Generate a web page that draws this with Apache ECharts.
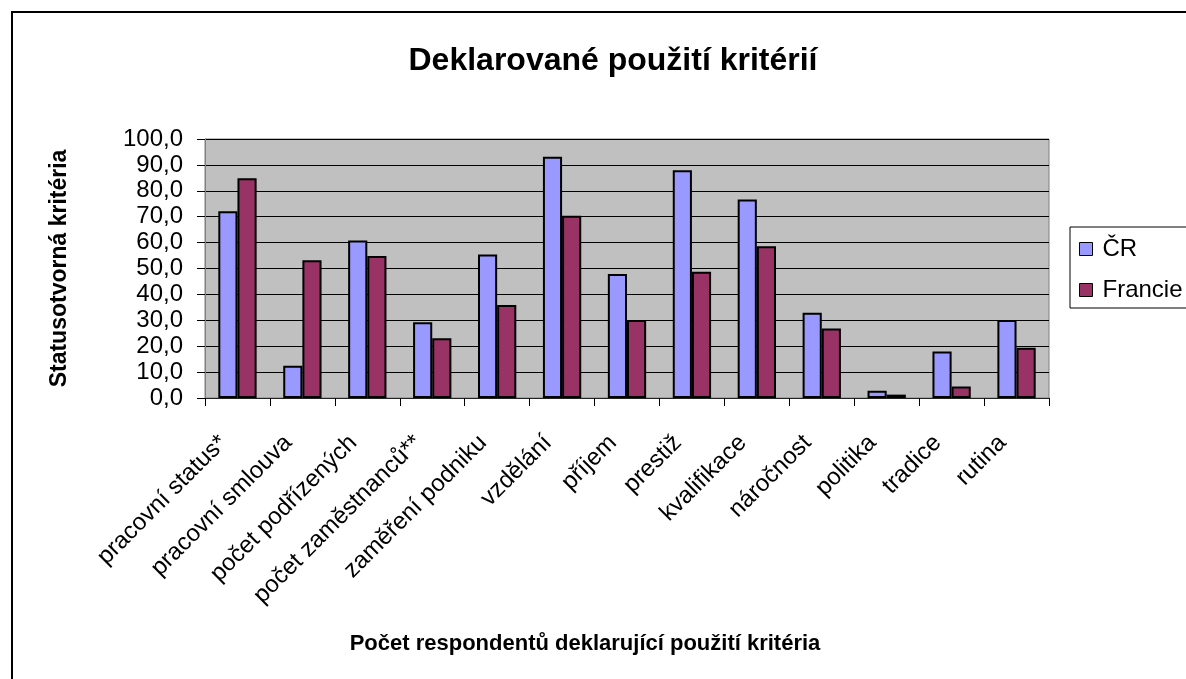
<!DOCTYPE html>
<html>
<head>
<meta charset="utf-8">
<script src="https://cdn.jsdelivr.net/npm/echarts@6/dist/echarts.min.js"></script>
<style>
  html, body { margin: 0; padding: 0; background: #fff; }
  #chart { width: 1186px; height: 679px; }
</style>
</head>
<body>
<div id="chart"></div>
<script>
// kategorie a hodnoty
const categories = [
  'pracovní status*', 'pracovní smlouva', 'počet podřízených', 'počet zaměstnanců**',
  'zaměření podniku', 'vzdělání', 'příjem', 'prestiž', 'kvalifikace',
  'náročnost', 'politika', 'tradice', 'rutina'
]
const cr = [72.1, 12.5, 60.8, 29.2, 55.4, 93.1, 47.9, 87.9, 76.6, 32.9, 2.8, 18.0, 30.1]
const francie = [84.8, 53.2, 54.8, 23.1, 35.9, 70.4, 30.1, 48.7, 58.6, 26.8, 1.3, 4.4, 19.4]
const seriesNames = ['ČR', 'Francie']

const font = '"Liberation Sans", Arial, sans-serif'
const chart = echarts.init(document.getElementById('chart'))

const option = {
  backgroundColor: '#fff',
  animation: false,
  textStyle: { fontFamily: font, color: '#000' },
  title: [{
    text: 'Deklarované použití kritérií',
    left: 608,
    top: 40,
    textAlign: 'center',
    textStyle: { fontFamily: font, fontSize: 32, fontWeight: 'bold', color: '#000' }
  }, {
    text: 'Počet respondentů deklarující použití kritéria',
    left: 580,
    top: 628,
    textAlign: 'center',
    textStyle: { fontFamily: font, fontSize: 22, fontWeight: 'bold', color: '#000' }
  }],
  graphic: [{
    type: 'rect',
    shape: { x: 12, y: 12, width: 1200, height: 700 },
    style: { fill: 'none', stroke: '#000', lineWidth: 2 },
    silent: true
  }],
  legend: {
    data: seriesNames,
    orient: 'vertical',
    left: 1070,
    top: 227,
    padding: [10, 40, 6, 9],
    itemGap: 17,
    itemWidth: 13,
    itemHeight: 13,
    borderColor: '#000',
    borderWidth: 1,
    icon: 'rect',
    itemStyle: { borderColor: '#000', borderWidth: 1 },
    textStyle: { fontFamily: font, fontSize: 24, color: '#000', padding: [0, 0, 0, 5] }
  },
  grid: {
    left: 205,
    top: 139,
    right: 137,
    bottom: 281,
    show: true,
    backgroundColor: '#C0C0C0',
    borderColor: '#808080',
    borderWidth: 1
  },
  xAxis: {
    type: 'category',
    data: categories,
    axisLine: { show: true, lineStyle: { color: '#222', width: 1 } },
    axisTick: { show: true, length: 8, lineStyle: { color: '#000' } },
    axisLabel: {
      interval: 0,
      rotate: 45,
      margin: 27,
      padding: [0, 20, 0, 0],
      fontFamily: font,
      fontSize: 24,
      color: '#000'
    },
    splitLine: { show: false }
  },
  yAxis: {
    type: 'value',
    min: 0,
    max: 100,
    interval: 10,
    name: 'Statusotvorná kritéria',
    nameLocation: 'middle',
    nameRotate: 90,
    nameGap: 134,
    nameTextStyle: { fontFamily: font, fontSize: 23, fontWeight: 'bold', color: '#000' },
    axisLine: { show: true, lineStyle: { color: '#808080', width: 1 } },
    axisTick: { show: true, length: 8, lineStyle: { color: '#000' } },
    axisLabel: {
      margin: 22,
      fontFamily: font,
      fontSize: 24,
      color: '#000',
      formatter: v => v.toFixed(1).replace('.', ',')
    },
    splitLine: { show: true, lineStyle: { color: '#000', width: 1 } }
  },
  series: [{
    name: seriesNames[0],
    type: 'bar',
    data: cr,
    barGap: '0%',
    barCategoryGap: '41%',
    itemStyle: { color: '#9999FF', borderColor: '#000', borderWidth: 2 }
  }, {
    name: seriesNames[1],
    type: 'bar',
    data: francie,
    barGap: '0%',
    barCategoryGap: '41%',
    itemStyle: { color: '#993366', borderColor: '#000', borderWidth: 2 }
  }]
}

chart.setOption(option)
</script>
</body>
</html>
